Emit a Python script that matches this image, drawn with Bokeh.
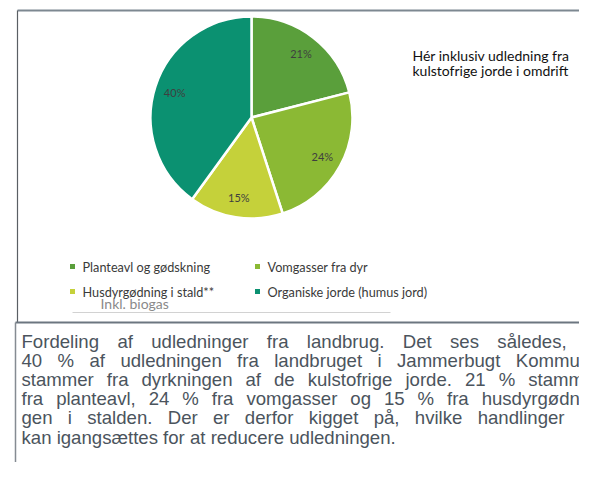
import math
from bokeh.plotting import figure
from bokeh.models import Range1d, ColumnDataSource
from bokeh.core.properties import value
from bokeh.embed import file_html
from bokeh.resources import INLINE

# ---------------- data ----------------
categories = ["Planteavl og gødskning", "Vomgasser fra dyr",
              "Husdyrgødning i stald**", "Organiske jorde (humus jord)"]
shares = [21, 24, 15, 40]
slice_labels = ["21%", "24%", "15%", "40%"]
slice_colors = ["#5a9f3b", "#8bb934", "#c5d13a", "#0b9171"]
note_lines = ["Hér inklusiv udledning fra", "kulstofrige jorde i omdrift"]
legend_footnote = "Inkl. biogas"
caption_lines = [
    "Fordeling af udledninger fra landbrug. Det ses således, at",
    "40 % af udledningen fra landbruget i Jammerbugt Kommune",
    "stammer fra dyrkningen af de kulstofrige jorde. 21 % stammer",
    "fra planteavl, 24 % fra vomgasser og 15 % fra husdyrgødnin-",
    "gen i stalden. Der er derfor kigget på, hvilke handlinger de",
    "kan igangsættes for at reducere udledningen.",
]

# ---------------- layout (screen px) ----------------
W, H = 579, 462
p = figure(width=W, height=H, output_backend="svg", toolbar_location=None,
           x_range=Range1d(0, W), y_range=Range1d(-H, 0),
           min_border=0)
p.axis.visible = False
p.grid.visible = False
p.outline_line_color = None
p.background_fill_color = "white"
p.border_fill_color = "white"

def Y(y):
    return -y

# frame lines of the document
p.segment(x0=[17], y0=[Y(10)], x1=[600], y1=[Y(10)], line_color="#7d8891", line_width=2)
p.segment(x0=[17], y0=[Y(10)], x1=[17], y1=[Y(322)], line_color="#5a5f64", line_width=1.2)
p.segment(x0=[15], y0=[Y(322)], x1=[600], y1=[Y(322)], line_color="#6c7680", line_width=2)
p.segment(x0=[15], y0=[Y(322)], x1=[15], y1=[Y(480)], line_color="#858b92", line_width=1.5)

# ---------------- pie ----------------
cx, cy, R = 251, 117, 101
total = float(sum(shares))
starts, ends, lx, ly = [], [], [], []
cum = 0.0
for s in shares:
    a0 = math.pi / 2 - 2 * math.pi * (cum + s) / total
    a1 = math.pi / 2 - 2 * math.pi * cum / total
    starts.append(a0)
    ends.append(a1)
    mid = (a0 + a1) / 2
    lx.append(cx + 0.8 * R * math.cos(mid))
    ly.append(Y(cy) + 0.8 * R * math.sin(mid))
    cum += s

src = ColumnDataSource(dict(start=starts, end=ends, color=slice_colors,
                            lx=lx, ly=ly, lab=slice_labels))
p.wedge(x=cx, y=Y(cy), radius=R, start_angle="start", end_angle="end",
        fill_color="color", line_color="white", line_width=2.5, source=src)
p.text(x="lx", y="ly", text="lab", source=src, text_align="center",
       text_baseline="middle", text_font=value("Lato"), text_font_size="11px",
       text_color="#3f3f3f")

# note on the right
p.text(x=[412, 412], y=[Y(55), Y(70)], text=note_lines, text_baseline="alphabetic",
       text_font=value("Lato"), text_font_size="14px", text_color="#111111")

# ---------------- legend ----------------
col_x = [72, 257]
row_y = [266, 291]
mx = [col_x[i % 2] for i in range(len(categories))]
my = [Y(row_y[i // 2]) for i in range(len(categories))]
p.scatter(x=mx, y=my, marker="square", size=5, fill_color=slice_colors, line_color=None)
p.text(x=[x + 10 for x in mx], y=my, text=categories, text_baseline="middle",
       text_font=value("Lato"), text_font_size="12.7px", text_color="#3a3a3a")
p.text(x=[100], y=[Y(303)], text=[legend_footnote], text_baseline="middle",
       text_font=value("Lato"), text_font_size="14px", text_color="#8a8a8a")
p.segment(x0=[72], y0=[Y(312)], x1=[390], y1=[Y(312)], line_color="#d2d2d2", line_width=1)

# ---------------- caption (justified) ----------------
AW = {' ': 278, '%': 889, ',': 278, '.': 278, '-': 333, '*': 389,
      '0': 556, '1': 556, '2': 556, '3': 556, '4': 556, '5': 556,
      '6': 556, '7': 556, '8': 556, '9': 556,
      'D': 722, 'F': 611, 'J': 500, 'K': 667,
      'a': 556, 'b': 556, 'c': 500, 'd': 556, 'e': 556, 'f': 278, 'g': 556,
      'h': 556, 'i': 222, 'j': 222, 'k': 500, 'l': 222, 'm': 833, 'n': 556,
      'o': 556, 'p': 556, 'q': 556, 'r': 333, 's': 500, 't': 278, 'u': 556,
      'v': 500, 'w': 722, 'x': 500, 'y': 500, 'z': 500,
      'å': 556, 'æ': 889, 'ø': 611}
FS = 18.6
def wd(word):
    return sum(AW.get(c, 556) for c in word) * FS / 1000.0

x_left, x_right = 21, 600
base0, step = 340.5, 19.2
wx, wy, wt = [], [], []
for i, line in enumerate(caption_lines):
    words = line.split(" ")
    yb = Y(base0 + i * step)
    if i < len(caption_lines) - 1:
        gap = (x_right - x_left - sum(wd(w) for w in words)) / (len(words) - 1)
        x = x_left
        for w in words:
            wx.append(x); wy.append(yb); wt.append(w)
            x += wd(w) + gap
    else:
        wx.append(x_left); wy.append(yb); wt.append(line)
p.text(x=wx, y=wy, text=wt, text_baseline="alphabetic",
       text_font=value("Liberation Sans"), text_font_size="18.6px", text_color="#4b545d")

open("out.html", "w").write(file_html(p, INLINE))
